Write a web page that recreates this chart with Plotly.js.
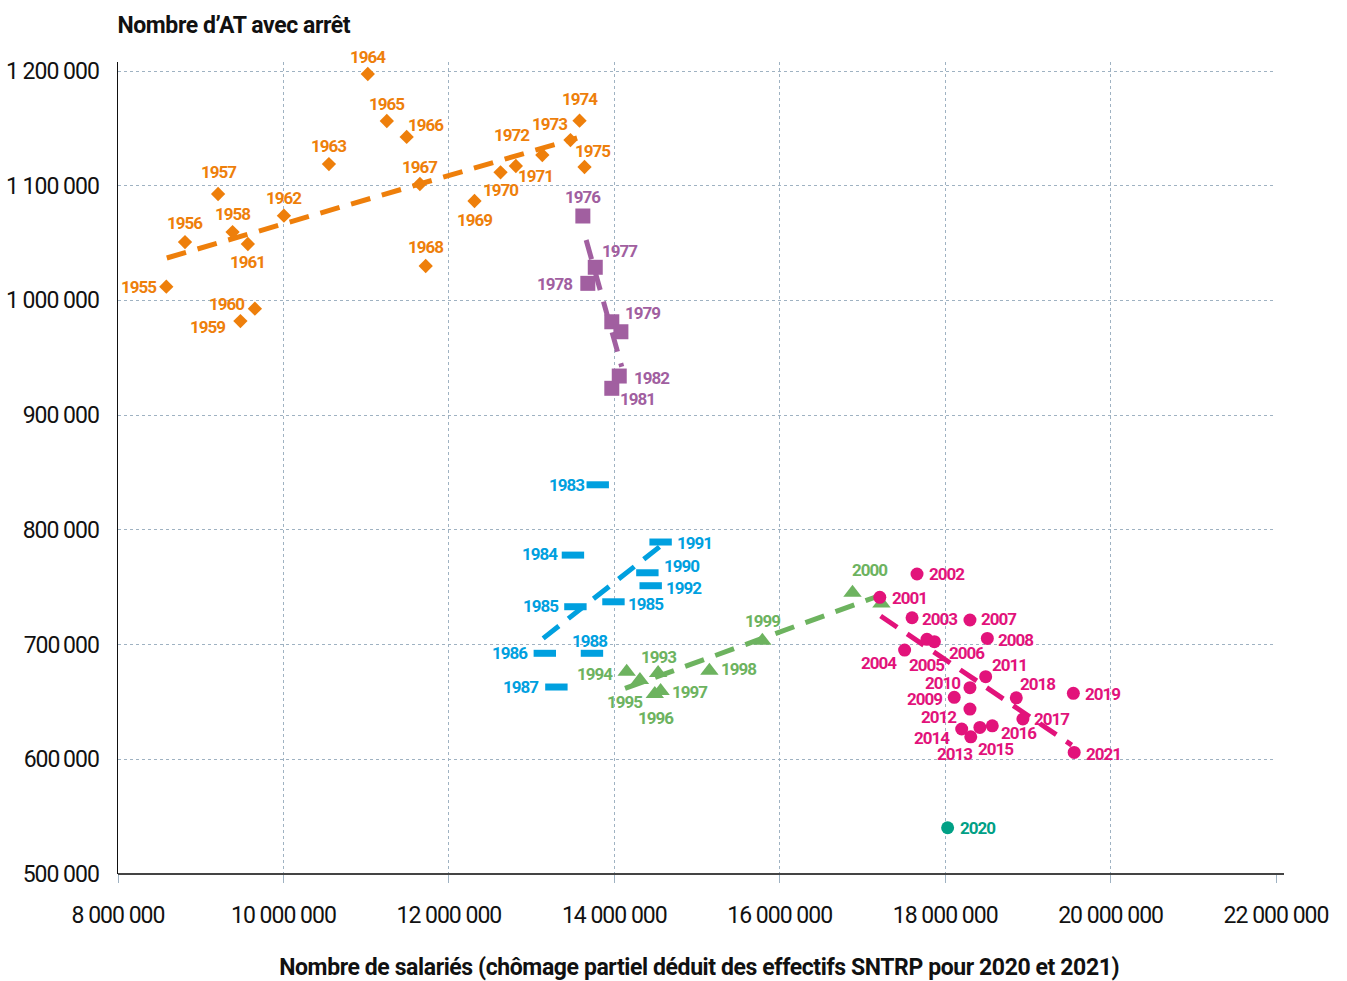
<!DOCTYPE html>
<html>
<head>
<meta charset="utf-8">
<script src="https://cdn.plot.ly/plotly-3.0.1.min.js"></script>
<style>
html,body{margin:0;padding:0;background:#ffffff;}
#chart{width:1347px;height:981px;}
#chart .annotation-text{letter-spacing:-1px;}
#chart .xtick text, #chart .ytick text{letter-spacing:-1px;}
#chart .annotation.ttl .annotation-text{letter-spacing:-0.4px;}
</style>
</head>
<body>
<div id="chart"></div>
<script>
// ---------- DATA ----------
const orangeLabels = ['1955','1956','1957','1958','1959','1960','1961','1962','1963','1964','1965','1966','1967','1968','1969','1970','1971','1972','1973','1974','1975'];
const orangeX = [8584000, 8810000, 9210000, 9385000, 9480000, 9655000, 9570000, 10006000, 10550000, 11020000, 11250000, 11490000, 11650000, 11720000, 12310000, 12625000, 12810000, 13130000, 13470000, 13580000, 13640000];
const orangeY = [1011950, 1050900, 1092800, 1059600, 982000, 992800, 1049200, 1073850, 1118900, 1197400, 1156400, 1142500, 1101500, 1030000, 1086700, 1111700, 1117200, 1126800, 1139800, 1156700, 1116300];
const orangeTrendX = [8590000, 13550000];
const orangeTrendY = [1037000, 1141600];

const purpleLabels = ['1976','1977','1978','1979','','1981','1982'];
const purpleX = [13620000, 13770000, 13680000, 13970000, 14080000, 13970000, 14060000];
const purpleY = [1073600, 1028900, 1014900, 981400, 972700, 923400, 934100];
const purpleTrendX = [13660000, 14090000];
const purpleTrendY = [1052700, 942200];

const cyanLabels = ['1983','1984','1985','1985','1986','1987','1988','1990','1991','1992'];
const cyanX = [13800000, 13500000, 13530000, 13990000, 13160000, 13300000, 13730000, 14400000, 14560000, 14440000];
const cyanY = [839300, 778000, 733000, 737300, 692400, 663000, 692400, 762600, 789400, 751300];
const cyanTrendX = [13140000, 14610000];
const cyanTrendY = [705400, 788800];

const greenLabels = ['1993','1994','1995','1996','1997','1998','1999','2000',''];
const greenX = [14530000, 14150000, 14310000, 14490000, 14560000, 15150000, 15790000, 16880000, 17230000];
const greenY = [675200, 676300, 669100, 656900, 659500, 677200, 703300, 745200, 735900];
const greenTrendX = [14130000, 17170000];
const greenTrendY = [661800, 741700];

const pinkLabels = ['2001','2002','2003','2004','2005','2006','2007','2008','2009','2010','2011','2012','2013','2014','2015','2016','2017','2018','2019','2021'];
const pinkX = [17210000, 17660000, 17600000, 17510000, 17780000, 17870000, 18300000, 18510000, 18110000, 18300000, 18490000, 18300000, 18310000, 18200000, 18420000, 18570000, 18940000, 18860000, 19550000, 19560000];
const pinkY = [741200, 761500, 723400, 695200, 704600, 702500, 721400, 705400, 654000, 662400, 672000, 643800, 619600, 626400, 627800, 629200, 635100, 653600, 657500, 606000];
const pinkTrendX = [17220000, 19530000];
const pinkTrendY = [724900, 612400];

const tealLabels = ['2020'];
const tealX = [18030000];
const tealY = [540300];

const xTickVals = [8000000, 10000000, 12000000, 14000000, 16000000, 18000000, 20000000, 22000000];
const xTickText = ['8 000 000','10 000 000','12 000 000','14 000 000','16 000 000','18 000 000','20 000 000','22 000 000'];
const yTickVals = [500000, 600000, 700000, 800000, 900000, 1000000, 1100000, 1200000];
const yTickText = ['500 000','600\u2009000','700\u2009000','800 000','900 000','1 000 000','1 100 000','1 200 000'];

const yTitle = 'Nombre d’AT avec arrêt';
const xTitle = 'Nombre de salariés (chômage partiel déduit des effectifs SNTRP pour 2020 et 2021)';

// ---------- LABEL OFFSETS (px, dy positive = up) ----------
const orangeDx = [-28,-1,0,0,-33,-28,0,0,0,0,0,19,0,0,0,0,20,-31,-21,0,8];
const orangeDy = [0,19,22,18,-6,5,-18,18,18,17,17,12,17,19,-19,-18,-10,20,16,22,16];
const purpleDx = [0,24,-33,31,0,26,32];
const purpleDy = [19,16,-1,9,0,-11,-2];
const cyanDx = [-31,-33,-35,32,-35,-36,-2,34,34,33];
const cyanDy = [0,1,1,-2,0,0,12,7,-1,-2];
const greenDx = [0,-32,-15,1,29,29,0,17,0];
const greenDy = [16,-2,-22,-24,-1,2,20,23,0];
const pinkDx = [30,29,27,-26,0,32,29,28,-30,-27,24,-31,-16,-30,16,26,29,21,29,29];
const pinkDy = [-1,0,-1,-13,-26,-11,1,-2,-2,5,12,-8,-17,-9,-22,-7,0,14,-1,-2];
const tealDx = [30];
const tealDy = [0];

// ---------- STYLE ----------
const FONT = 'Roboto, Liberation Sans, sans-serif';
const C_ORANGE = '#EE7F0B';
const C_PURPLE = '#A15FA0';
const C_CYAN = '#00A0DF';
const C_GREEN = '#6DB35F';
const C_PINK = '#E2137B';
const C_TEAL = '#00A085';
const GRID = '#9fb2c2';

function trend(x, y, color) {
  return {x: x, y: y, type: 'scatter', mode: 'lines', hoverinfo: 'skip',
    line: {color: color, width: 5, dash: '20px,12px'}, showlegend: false};
}
function pts(x, y, color, symbol, size, lineW) {
  const m = {color: color, symbol: symbol, size: size};
  if (lineW) m.line = {color: color, width: lineW};
  else m.line = {width: 0};
  return {x: x, y: y, type: 'scatter', mode: 'markers', hoverinfo: 'skip', marker: m, showlegend: false};
}

const traces = [
  trend(orangeTrendX, orangeTrendY, C_ORANGE),
  trend(purpleTrendX, purpleTrendY, C_PURPLE),
  trend(cyanTrendX, cyanTrendY, C_CYAN),
  trend(greenTrendX, greenTrendY, C_GREEN),
  trend(pinkTrendX, pinkTrendY, C_PINK),
  pts(orangeX, orangeY, C_ORANGE, 'diamond', 11),
  pts(purpleX, purpleY, C_PURPLE, 'square', 15),
  pts(cyanX, cyanY, C_CYAN, 'line-ew', 16, 7),
  pts(greenX, greenY, C_GREEN, 'triangle-up', 16),
  pts(pinkX, pinkY, C_PINK, 'circle', 13),
  pts(tealX, tealY, C_TEAL, 'circle', 13)
];

const annotations = [];
function addLabels(xs, ys, labels, dxs, dys, color) {
  for (let i = 0; i < xs.length; i++) {
    if (!labels[i]) continue;
    annotations.push({x: xs[i], y: ys[i], xref: 'x', yref: 'y', text: labels[i], showarrow: false,
      xshift: dxs[i], yshift: dys[i], xanchor: 'center', yanchor: 'middle',
      font: {family: FONT, size: 17, color: color, weight: 'bold'}});
  }
}
addLabels(orangeX, orangeY, orangeLabels, orangeDx, orangeDy, C_ORANGE);
addLabels(purpleX, purpleY, purpleLabels, purpleDx, purpleDy, C_PURPLE);
addLabels(cyanX, cyanY, cyanLabels, cyanDx, cyanDy, C_CYAN);
addLabels(greenX, greenY, greenLabels, greenDx, greenDy, C_GREEN);
addLabels(pinkX, pinkY, pinkLabels, pinkDx, pinkDy, C_PINK);
addLabels(tealX, tealY, tealLabels, tealDx, tealDy, C_TEAL);

const nData = annotations.length;
annotations.push({text: yTitle, xref: 'paper', yref: 'paper', x: 0, xshift: -7, y: 1.0468, yshift: -2, xanchor: 'left', yanchor: 'middle',
  showarrow: false, font: {family: FONT, size: 23, color: '#111', weight: 'bold'}});
annotations.push({text: xTitle, xref: 'paper', yref: 'paper', x: 0.5, xshift: 2, y: -0.1145, yshift: -1, xanchor: 'center', yanchor: 'middle',
  showarrow: false, font: {family: FONT, size: 23, color: '#111', weight: 'bold'}});

const layout = {
  width: 1347, height: 981,
  margin: {l: 118, r: 71, t: 62, b: 107},
  paper_bgcolor: '#ffffff', plot_bgcolor: '#ffffff',
  showlegend: false,
  xaxis: {range: [8000000, 22000000], tickmode: 'array', tickvals: xTickVals, ticktext: xTickText,
    showgrid: true, gridcolor: GRID, griddash: 'dot', gridwidth: 1, zeroline: false, showline: false,
    ticks: 'outside', ticklen: 8, tickcolor: GRID, tickwidth: 1, ticklabelstandoff: 12,
    tickfont: {family: FONT, size: 23, color: '#111'}, fixedrange: true},
  yaxis: {range: [500000, 1207850], tickmode: 'array', tickvals: yTickVals, ticktext: yTickText,
    showgrid: true, gridcolor: GRID, griddash: 'dot', gridwidth: 1, zeroline: false,
    showline: true, linecolor: '#111', linewidth: 1.5, ticks: '', ticklabelstandoff: 13,
    tickfont: {family: FONT, size: 23, color: '#111'}, fixedrange: true},
  shapes: [{type: 'line', xref: 'paper', yref: 'paper', x0: 0, x1: 1 + 8/1158, y0: 0, y1: 0,
    line: {color: '#444', width: 2}}],
  annotations: annotations
};

Plotly.newPlot('chart', traces, layout, {displayModeBar: false, staticPlot: true}).then(function (gd) {
  // tag the two title annotations so their letter spacing can differ
  const nodes = gd.querySelectorAll('.annotation');
  for (let i = nData; i < nodes.length; i++) nodes[i].classList.add('ttl');
});
</script>
</body>
</html>
